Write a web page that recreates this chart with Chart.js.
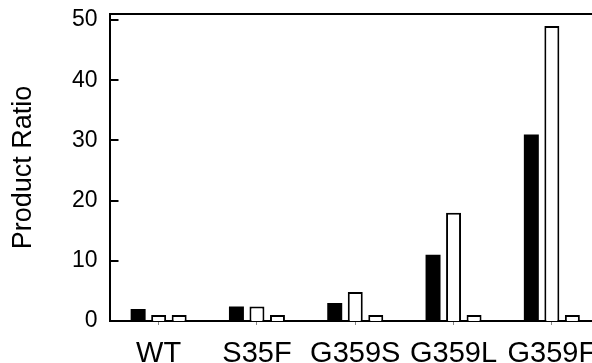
<!DOCTYPE html>
<html>
<head>
<meta charset="utf-8">
<script src="https://cdn.jsdelivr.net/npm/chart.js@4.4.0/dist/chart.umd.min.js"></script>
<style>
  html, body { margin: 0; padding: 0; background: #fff; overflow: hidden; }
  #wrap { width: 601px; height: 372px; }
</style>
</head>
<body>
<div id="wrap"><canvas id="ratioChart" width="601" height="372"></canvas></div>
<script>
const categories = ['WT', 'S35F', 'G359S', 'G359L', 'G359F'];
const blackValues = [2, 2.4, 3, 11, 31];
const whiteValues = [1, 2.4, 4.8, 18, 49];
const thirdValues = [1, 1, 1, 1, 1];
const yTicks = [0, 10, 20, 30, 40, 50];

const fontFamily = '"Liberation Sans", Arial, Helvetica, sans-serif';

// y ticks in this figure point into the plot, so draw them here
const innerTicks = {
  id: 'innerTicks',
  afterDatasetsDraw(chart) {
    const yScale = chart.scales.y;
    const ctx = chart.ctx;
    const left = chart.chartArea.left;
    ctx.save();
    ctx.strokeStyle = '#000';
    ctx.lineWidth = 2;
    yScale.ticks.forEach(t => {
      const py = Math.round(yScale.getPixelForValue(t.value));
      ctx.beginPath();
      ctx.moveTo(left, py);
      ctx.lineTo(left + 9, py);
      ctx.stroke();
    });
    ctx.restore();
  }
};

const ctx = document.getElementById('ratioChart');

new Chart(ctx, {
  type: 'bar',
  data: {
    labels: categories,
    datasets: [
      {
        data: blackValues,
        backgroundColor: '#000',
        borderColor: '#000',
        borderWidth: 0
      },
      {
        data: whiteValues,
        backgroundColor: '#fff',
        borderColor: '#000',
        borderWidth: 2
      },
      {
        data: thirdValues,
        backgroundColor: '#fff',
        borderColor: '#000',
        borderWidth: 2
      }
    ]
  },
  options: {
    responsive: false,
    animation: false,
    barPercentage: 0.73,
    categoryPercentage: 0.626,
    layout: {
      padding: { left: 3.5, top: 14, right: 0, bottom: 0 }
    },
    plugins: {
      legend: { display: false },
      tooltip: { enabled: false }
    },
    scales: {
      x: {
        position: 'bottom',
        afterFit: scale => {
          scale.height = 51;
          scale.paddingLeft = 0;
          scale.paddingRight = 0;
        },
        grid: {
          display: true,
          offset: false,
          drawOnChartArea: false,
          drawTicks: true,
          tickLength: 4,
          color: '#888'
        },
        border: { display: true, color: '#000', width: 2 },
        ticks: {
          color: '#000',
          padding: 12,
          maxRotation: 0,
          autoSkip: false,
          font: { family: fontFamily, size: 29 }
        }
      },
      xTop: {
        type: 'category',
        position: 'top',
        labels: categories,
        afterFit: scale => {
          scale.height = 0;
          scale.paddingLeft = 0;
          scale.paddingRight = 0;
        },
        grid: { display: false, drawTicks: false },
        border: { display: true, color: '#000', width: 2 },
        ticks: { display: false }
      },
      y: {
        min: 0,
        max: 51,
        afterBuildTicks: scale => {
          scale.ticks = yTicks.map(v => ({ value: v }));
        },
        afterFit: scale => {
          scale.width = 106;
          scale.paddingTop = 0;
          scale.paddingBottom = 0;
        },
        grid: { display: false, drawTicks: false },
        border: { display: true, color: '#000', width: 2 },
        ticks: {
          color: '#000',
          padding: 12,
          font: { family: fontFamily, size: 23 }
        },
        title: {
          display: true,
          text: 'Product Ratio',
          color: '#000',
          padding: { top: 4, bottom: 4 },
          font: { family: fontFamily, size: 27 }
        }
      }
    }
  },
  plugins: [innerTicks]
});
</script>
</body>
</html>
